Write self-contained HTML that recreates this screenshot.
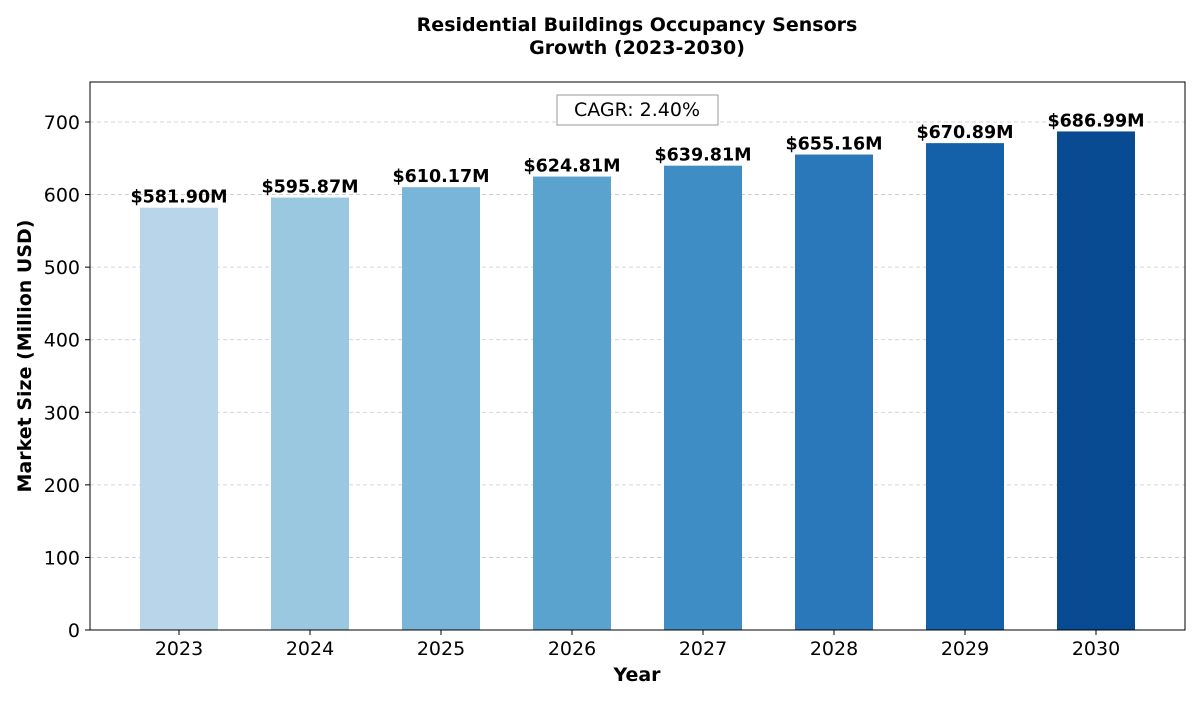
<!DOCTYPE html>
<html><head><meta charset="utf-8"><style>
body{margin:0;background:#fff;font-family:"Liberation Sans","DejaVu Sans",sans-serif;}
svg text{font-family:"DejaVu Sans","Liberation Sans",sans-serif;}
</style></head><body>
<svg id="chart" width="1200" height="700" xmlns="http://www.w3.org/2000/svg">
<text x="637" y="31" text-anchor="middle" font-size="19" font-weight="bold">Residential Buildings Occupancy Sensors</text>
<text x="637" y="54" text-anchor="middle" font-size="19" font-weight="bold">Growth (2023-2030)</text>
<g id="grid"></g>
<g id="bars"></g>
<rect x="90" y="82" width="1095" height="548" fill="none" stroke="#000" stroke-width="1"/>
<g id="axes"></g>
<rect x="557" y="95" width="161" height="30" fill="#fff" stroke="#999"/>
<text x="637" y="116" text-anchor="middle" font-size="19">CAGR: 2.40%</text>
<text x="637" y="681" text-anchor="middle" font-size="19" font-weight="bold">Year</text>
<text transform="translate(31,356) rotate(-90)" text-anchor="middle" font-size="19" font-weight="bold">Market Size (Million USD)</text>
</svg>
<script>
const categories=["2023","2024","2025","2026","2027","2028","2029","2030"];
const values=[581.90,595.87,610.17,624.81,639.81,655.16,670.89,686.99];
const valueLabels=["$581.90M","$595.87M","$610.17M","$624.81M","$639.81M","$655.16M","$670.89M","$686.99M"];
const yTicks=[0,100,200,300,400,500,600,700];
const colors=["#b9d5ea","#9ac8e0","#78b5d9","#5ba3cf","#3f8dc5","#2a78b9","#1561a9","#084b93"];
const NS="http://www.w3.org/2000/svg";
function xS(i){return 179+i*131;}
function yS(v){return 630-v*508/700;}
function mk(tag,attrs,parent,txt){const e=document.createElementNS(NS,tag);for(const k in attrs)e.setAttribute(k,attrs[k]);if(txt!==undefined)e.textContent=txt;document.getElementById(parent).appendChild(e);return e;}
yTicks.forEach(t=>{
 const l=mk("line",{x1:90,x2:1185,y1:yS(t),y2:yS(t),stroke:"#c8c8c8","stroke-dasharray":"4,3","stroke-width":0.8},"grid");
 
 
 const tk=mk("line",{x1:85,x2:90,y1:yS(t),y2:yS(t),stroke:"#000"},"axes");
 
 
 const tx=mk("text",{x:80,y:yS(t)+7,"text-anchor":"end","font-size":"19"},"axes",String(t));
 
 
});
categories.forEach((c,i)=>{
 const w=78;
 const b=mk("rect",{x:xS(i)-w/2,y:yS(values[i]),width:w,height:630-yS(values[i]),fill:colors[i]},"bars");
 
 
 const v=mk("text",{x:xS(i),y:yS(values[i])-5,"text-anchor":"middle","font-size":"17.5","font-weight":"bold"},"bars",valueLabels[i]);
 
 
 const tk=mk("line",{x1:xS(i),x2:xS(i),y1:630,y2:635,stroke:"#000"},"axes");
 
 
 const tx=mk("text",{x:xS(i),y:655,"text-anchor":"middle","font-size":"19"},"axes",c);
 
 
});
</script>
</body></html>
